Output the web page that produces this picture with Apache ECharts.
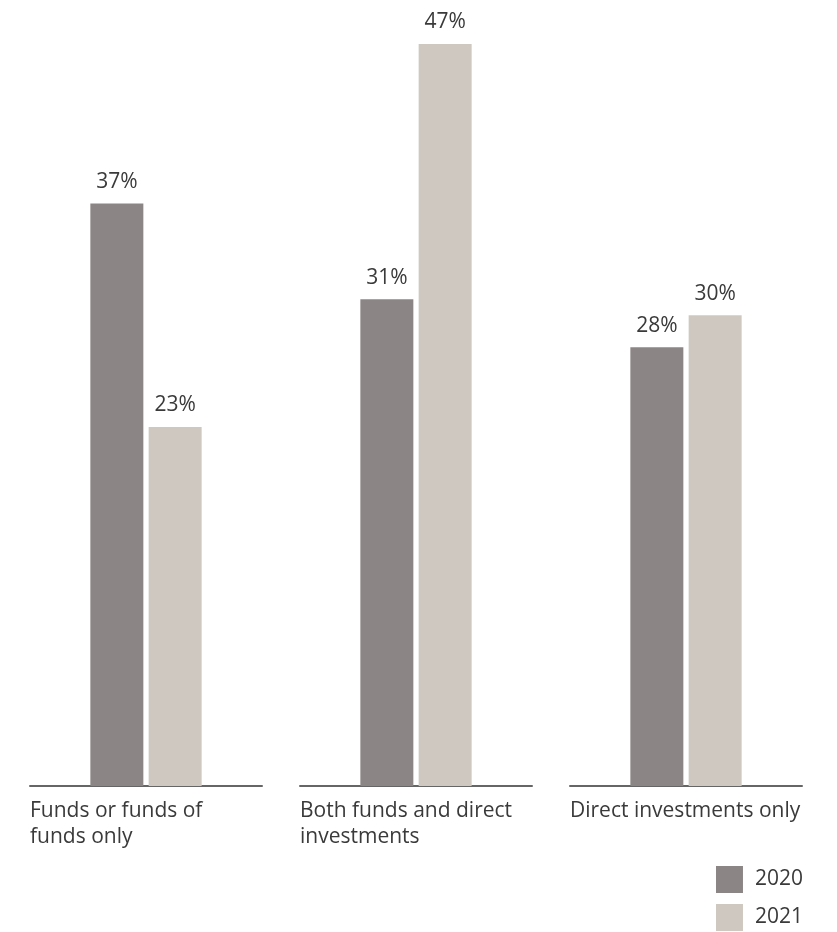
<!DOCTYPE html>
<html><head><meta charset="utf-8">
<script src="https://cdn.jsdelivr.net/npm/echarts@6/dist/echarts.min.js"></script>
<style>html,body{margin:0;padding:0;background:#fff}#c{width:837px;height:932px}</style>
</head><body><div id="c"></div>
<script>
var categories = ['Funds or funds of\nfunds only', 'Both funds and direct\ninvestments', 'Direct investments only'];
var seriesNames = ['2020', '2021'];
var values2020 = [37, 31, 28];
var values2021 = [23, 47, 30];
var colors = ['#8b8685', '#cfc8c1'];

var chart = echarts.init(document.getElementById('c'));
var font = 'Open Sans';
var fs = 21;
var gridLefts = [30, 300, 570];
var grids = [], xAxes = [], yAxes = [], series = [];
categories.forEach(function (cat, i) {
  grids.push({ left: gridLefts[i], width: 232, top: 44, bottom: 146 });
  xAxes.push({
    type: 'category', gridIndex: i, data: [cat],
    axisLine: { lineStyle: { color: '#666', width: 2 } },
    axisTick: { show: false },
    axisLabel: {
      margin: 12,
      formatter: function (v) { return v.split('\n').map(function (l) { return '{a|' + l + '}'; }).join('\n'); },
      rich: { a: { width: 232, align: 'left', fontSize: fs, lineHeight: 26, color: '#3a3a3a', fontFamily: font } }
    }
  });
  yAxes.push({ type: 'value', gridIndex: i, min: 0.5, max: 47, show: false, splitLine: { show: false } });
  [values2020, values2021].forEach(function (vals, s) {
    series.push({
      type: 'bar', name: seriesNames[s], xAxisIndex: i, yAxisIndex: i,
      data: [vals[i]], barWidth: 53, barGap: '10%',
      itemStyle: { color: colors[s] },
      label: { show: true, position: 'top', distance: 11, formatter: '{c}%', fontSize: fs, color: '#3a3a3a', fontFamily: font }
    });
  });
});

chart.setOption({
  animation: false,
  grid: grids, xAxis: xAxes, yAxis: yAxes, series: series,
  legend: {
    data: seriesNames, orient: 'vertical', right: 34, top: 866, padding: 0,
    itemWidth: 27, itemHeight: 27, itemGap: 11, icon: 'rect',
    textStyle: { fontSize: fs, color: '#3a3a3a', fontFamily: font, padding: [0, 0, 0, 7] }
  }
});
</script></body></html>
